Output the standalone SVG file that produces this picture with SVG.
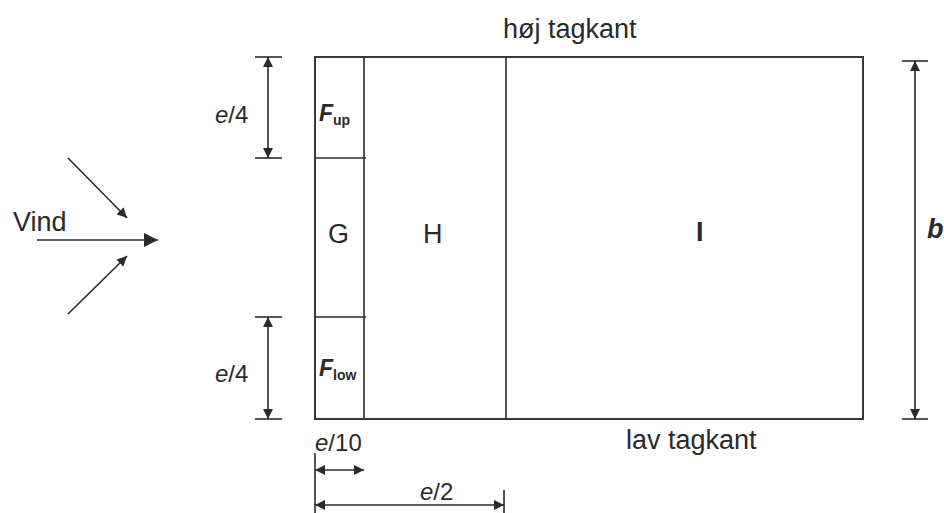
<svg xmlns="http://www.w3.org/2000/svg" width="944" height="513" viewBox="0 0 944 513">
<style>
text{font-family:"Liberation Sans",Arial,sans-serif;fill:#2a2a2a;font-size:27px}
.dm{font-size:24px}
.ln{stroke:#2a2a2a;stroke-width:1.6;fill:none}
.bx{stroke:#3a3a3a;stroke-width:2;fill:none}
.it{font-style:italic}
.fb{font-style:italic;font-weight:bold;font-size:23px}
.sb{font-weight:bold;font-size:14px}
</style>
<defs>
<marker id="ah" viewBox="0 0 10 10" refX="10" refY="5" markerWidth="10" markerHeight="10" markerUnits="userSpaceOnUse" orient="auto-start-reverse"><path d="M0,0 L10,5 L0,10 z" fill="#2a2a2a"/></marker>
<marker id="ab" viewBox="0 0 10 10" refX="10" refY="5" markerWidth="16" markerHeight="14" markerUnits="userSpaceOnUse" orient="auto"><path d="M0,0 L10,5 L0,10 z" fill="#2a2a2a"/></marker>
</defs>
<g id="roof">
<rect class="bx" x="315" y="57" width="548" height="362"/>
<line class="ln" x1="364" y1="57" x2="364" y2="419"/>
<line class="ln" x1="506" y1="57" x2="506" y2="419"/>
<line class="ln" x1="315" y1="158" x2="366" y2="158"/>
<line class="ln" x1="315" y1="317" x2="366" y2="317"/>
</g>
<g id="Fup"><text class="fb" x="319" y="121">F<tspan class="sb" font-style="normal" dy="4">up</tspan></text></g>
<g id="G"><text x="328" y="243">G</text></g>
<g id="H"><text x="423" y="243">H</text></g>
<g id="I"><text x="696" y="241" font-weight="bold">I</text></g>
<g id="Flow"><text class="fb" x="319" y="376">F<tspan class="sb" font-style="normal" dy="4">low</tspan></text></g>
<g id="labels">
<text x="503" y="38">høj tagkant</text>
<text x="626" y="449">lav tagkant</text>
<text x="13" y="231">Vind</text>
<text class="dm" x="215" y="123"><tspan class="it">e</tspan>/4</text>
<text class="dm" x="215" y="382"><tspan class="it">e</tspan>/4</text>
<text class="dm" x="315" y="451"><tspan class="it">e</tspan>/10</text>
<text class="dm" x="420" y="500"><tspan class="it">e</tspan>/2</text>
<text class="it" x="927" y="238" font-weight="bold" font-size="22">b</text>
</g>
<g id="connectors">
<line class="ln" x1="37" y1="240" x2="158" y2="240" marker-end="url(#ab)"/>
<line class="ln" x1="68" y1="158" x2="127" y2="218" marker-end="url(#ah)"/>
<line class="ln" x1="68" y1="314" x2="127" y2="256" marker-end="url(#ah)"/>
<line class="ln" x1="255" y1="57" x2="282" y2="57"/>
<line class="ln" x1="255" y1="158" x2="282" y2="158"/>
<line class="ln" x1="268" y1="57" x2="268" y2="158" marker-start="url(#ah)" marker-end="url(#ah)"/>
<line class="ln" x1="255" y1="317" x2="282" y2="317"/>
<line class="ln" x1="255" y1="419" x2="282" y2="419"/>
<line class="ln" x1="268" y1="317" x2="268" y2="419" marker-start="url(#ah)" marker-end="url(#ah)"/>
<line class="ln" x1="902" y1="61" x2="928" y2="61"/>
<line class="ln" x1="902" y1="419" x2="928" y2="419"/>
<line class="ln" x1="915" y1="61" x2="915" y2="419" marker-start="url(#ah)" marker-end="url(#ah)"/>
<line class="ln" x1="315" y1="453" x2="315" y2="513"/>
<line class="ln" x1="504" y1="490" x2="504" y2="513"/>
<line class="ln" x1="315" y1="470" x2="364" y2="470" marker-start="url(#ah)" marker-end="url(#ah)"/>
<line class="ln" x1="315" y1="505" x2="504" y2="505" marker-start="url(#ah)" marker-end="url(#ah)"/>
</g>
</svg>
